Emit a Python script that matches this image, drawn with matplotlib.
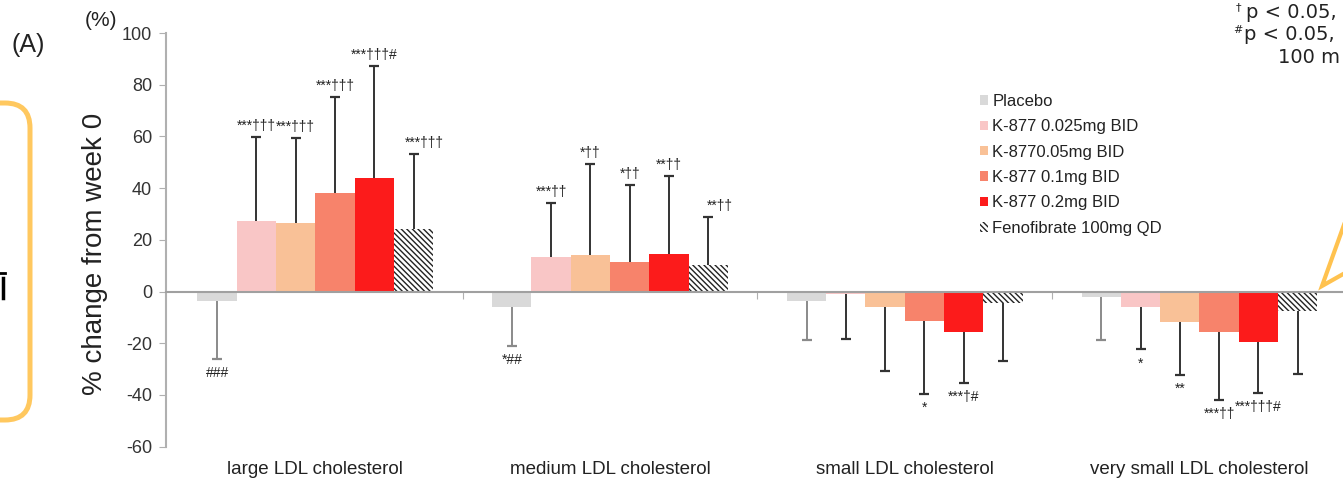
import numpy as np
import matplotlib
matplotlib.use('Agg')
import matplotlib.pyplot as plt
from matplotlib.patches import FancyBboxPatch

plt.rcParams['font.family'] = ['Liberation Sans', 'DejaVu Sans']
plt.rcParams['hatch.linewidth'] = 1.0

# data
categories = ['large LDL cholesterol', 'medium LDL cholesterol',
              'small LDL cholesterol', 'very small LDL cholesterol']
series = ['Placebo', 'K-877 0.025mg BID', 'K-8770.05mg BID',
          'K-877 0.1mg BID', 'K-877 0.2mg BID', 'Fenofibrate 100mg QD']

placebo = [-3.7, -6.1, -3.5, -2.2]
placebo_sd = [22.3, 14.8, 15.2, 16.5]
k877_0025 = [27.1, 13.3, -0.8, -6.1]
k877_0025_sd = [32.7, 20.9, 17.5, 16.3]
k877_005 = [26.6, 14.1, -5.8, -11.6]
k877_005_sd = [32.8, 35.1, 25.1, 20.6]
k877_01 = [38.1, 11.4, -11.5, -15.8]
k877_01_sd = [37.0, 29.8, 28.2, 26.1]
k877_02 = [44.1, 14.6, -15.5, -19.4]
k877_02_sd = [43.1, 30.1, 19.9, 20.0]
feno = [24.1, 10.1, -4.5, -7.4]
feno_sd = [29.1, 18.6, 22.2, 24.3]

placebo_sig = ['###', '*##', '', '']
k877_0025_sig = ['***†††', '***††', '', '*']
k877_005_sig = ['***†††', '*††', '', '**']
k877_01_sig = ['***†††', '*††', '*', '***††']
k877_02_sig = ['***†††#', '**††', '***†#', '***†††#']
feno_sig = ['***†††', '**††', '', '']

yticks = [-60, -40, -20, 0, 20, 40, 60, 80, 100]

means = [placebo, k877_0025, k877_005, k877_01, k877_02, feno]
sds = [placebo_sd, k877_0025_sd, k877_005_sd, k877_01_sd, k877_02_sd, feno_sd]
sigs = [placebo_sig, k877_0025_sig, k877_005_sig, k877_01_sig, k877_02_sig, feno_sig]
colors = ['#D9D9D9', '#F9C6C6', '#F9C197', '#F7836B', '#FC1B1B', 'white']

W, H = 1343, 484
fig = plt.figure(figsize=(W / 100, H / 100), dpi=100)
ax = fig.add_axes([166 / W, 1 - 446.7 / H, (1346.8 - 166) / W, (446.7 - 33) / H])

n = len(series)
width = 0.8 / n
x = np.arange(len(categories)) + 0.5
handles = []
for j in range(n):
   xs = x + (j - (n - 1) / 2) * width
   vals = np.array(means[j])
   sd = np.array(sds[j])
   if j == n - 1:
      b = ax.bar(xs, vals, width, color='white', edgecolor='#222222',
                 linewidth=0, hatch='\\\\\\\\\\\\', label=series[j], zorder=2)
   else:
      b = ax.bar(xs, vals, width, color=colors[j], linewidth=0,
                 label=series[j], zorder=2)
   handles.append(b)

   # one-sided error bars, cap only at the far end
   ends = np.where(vals < 0, vals - sd, vals + sd)
   ecol = '#8A8A8A' if j == 0 else '#333333'
   ax.vlines(xs, vals, ends, color=ecol, linewidth=1.4, zorder=3)
   ax.plot(xs, ends, linestyle='none', marker='_', markersize=7,
           markeredgewidth=1.6, color=ecol, zorder=3)

   for k in range(len(categories)):
      s = sigs[j][k]
      if not s:
         continue
      dx = 8 if j == n - 1 else 0
      if vals[k] >= 0:
         ax.annotate(s, (xs[k], ends[k]), xytext=(dx, 3),
                     textcoords='offset points', ha='center', va='bottom',
                     fontsize=10, color='#222222')
      else:
         ax.annotate(s, (xs[k], ends[k]), xytext=(dx, -5),
                     textcoords='offset points', ha='center', va='top',
                     fontsize=10, color='#222222')

ax.set_xlim(-0.0068, 4)
ax.set_ylim(-60, 100)
ax.set_yticks(yticks)
ax.set_yticklabels([str(t) for t in yticks])
ax.set_xticks([1, 2, 3])
ax.set_xticklabels(['', '', ''])
ax.spines['top'].set_visible(False)
ax.spines['right'].set_visible(False)
ax.spines['bottom'].set_position(('data', 0))
ax.spines['left'].set_color('#B0B0B0')
ax.spines['bottom'].set_color('#A0A0A0')
ax.spines['left'].set_linewidth(1.5)
ax.spines['bottom'].set_linewidth(1.5)
ax.tick_params(axis='y', length=5, color='#B0B0B0', labelsize=13,
               labelcolor='#333333', pad=5)
ax.tick_params(axis='x', length=5, color='#B0B0B0', direction='out')
ax.patch.set_visible(False)

for i, c in enumerate(categories):
   ax.text(x[i], -0.056, c, transform=ax.get_xaxis_transform(),
           ha='center', va='center', fontsize=13.5, color='#222222')

leg = ax.legend(handles=handles, loc='upper left',
                bbox_to_anchor=(980 / W, 1 - 94 / H),
                bbox_transform=fig.transFigure, frameon=False, fontsize=12,
                handlelength=0.5, handleheight=0.5, handletextpad=0.25,
                labelspacing=0.62, borderpad=0, borderaxespad=0)
for t in leg.get_texts():
   t.set_color('#222222')

fig.text(95 / W, 1 - 254 / H, '% change from week 0', rotation=90,
         ha='center', va='center', fontsize=20, color='#222222')

# overlay in pixel coordinates for the slide fragments
ov = fig.add_axes([0, 0, 1, 1])
ov.set_xlim(0, W)
ov.set_ylim(H, 0)
ov.axis('off')
ov.patch.set_visible(False)

ov.text(101, 21, '(%)', ha='center', va='center', fontsize=15, color='#222222')
ov.text(28, 45, '(A)', ha='center', va='center', fontsize=18, color='#222222')

box = FancyBboxPatch((-60, 103), 90, 317,
                     boxstyle='round,pad=0,rounding_size=25',
                     facecolor='none', edgecolor='#FFC85F', linewidth=3.6)
ov.add_patch(box)
# cut-off glyph at the left edge of the slide
ov.plot([0, 5], [273, 273], color='black', linewidth=2)
ov.plot([3, 3], [278, 298], color='black', linewidth=2.5)

ov.plot([1345, 1322, 1345], [222, 286, 273], color='#FFC24F', linewidth=3,
        solid_joinstyle='miter')

ov.text(1236, 10, '†', ha='left', va='baseline', fontsize=8,
        family='DejaVu Sans', color='#222222')
ov.text(1246, 18, 'p < 0.05,', ha='left', va='baseline', fontsize=14,
        family='DejaVu Sans', color='#222222')
ov.text(1233, 33, '#', ha='left', va='baseline', fontsize=8,
        family='DejaVu Sans', color='#222222')
ov.text(1244, 40, 'p < 0.05,', ha='left', va='baseline', fontsize=14,
        family='DejaVu Sans', color='#222222')
ov.text(1278, 63, '100 m', ha='left', va='baseline', fontsize=14,
        family='DejaVu Sans', color='#222222')

fig.savefig('out.png', dpi=100)
